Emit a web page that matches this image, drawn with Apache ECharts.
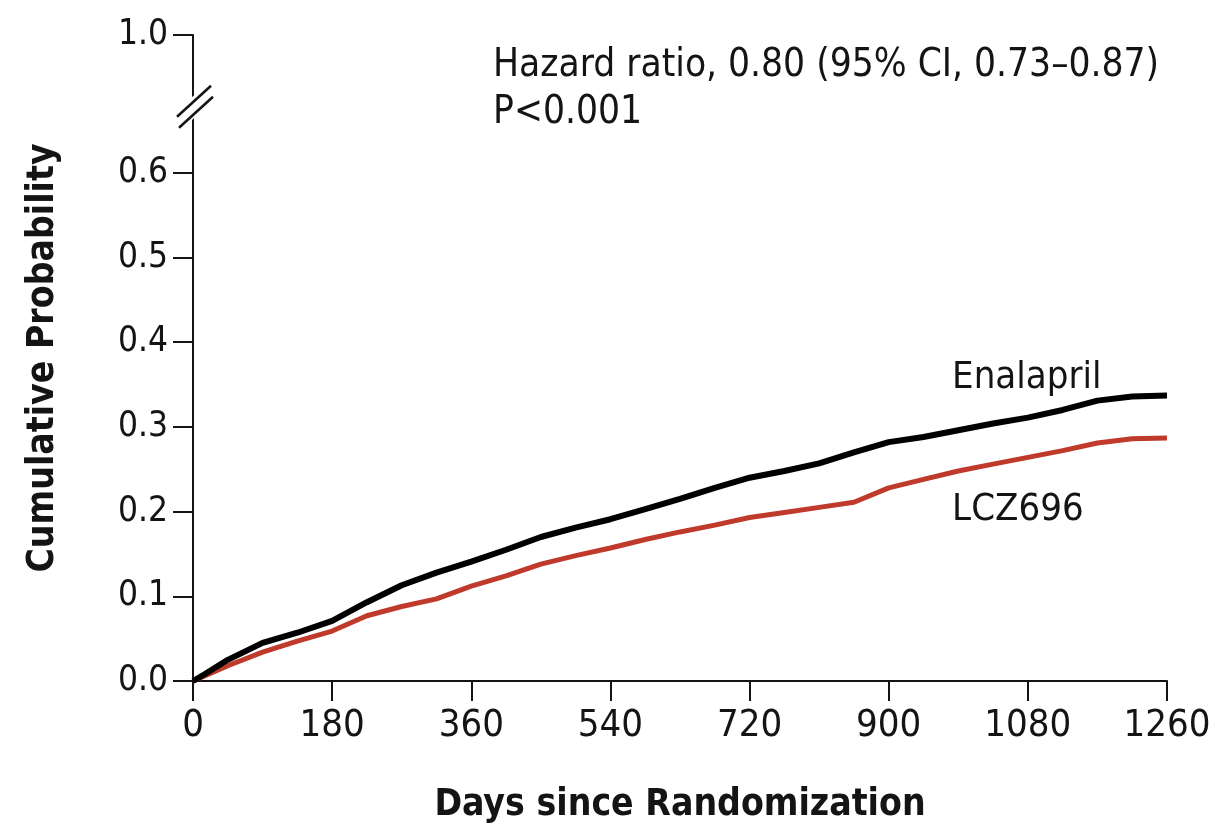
<!DOCTYPE html>
<html>
<head>
<meta charset="utf-8">
<script src="https://cdn.jsdelivr.net/npm/echarts@6/dist/echarts.min.js"></script>
<style>
html,body{margin:0;padding:0;background:#fff;}
#chart{width:1215px;height:824px;}
</style>
</head>
<body>
<div id="chart"></div>
<script>
// ---- data ----
var days = [0,15,45,90,135,180,225,270,315,360,405,450,495,540,585,630,675,720,765,810,855,900,945,990,1035,1080,1125,1170,1215,1260];
var enalapril = [0,0.008,0.025,0.045,0.057,0.071,0.093,0.113,0.128,0.141,0.155,0.170,0.181,0.191,0.203,0.215,0.228,0.240,0.248,0.257,0.270,0.282,0.288,0.296,0.304,0.311,0.320,0.331,0.336,0.337];
var lcz696 = [0,0.006,0.018,0.034,0.047,0.059,0.077,0.088,0.097,0.112,0.124,0.138,0.148,0.157,0.167,0.176,0.184,0.193,0.199,0.205,0.211,0.228,0.238,0.248,0.256,0.264,0.272,0.281,0.286,0.287];
var xTicks = [0,180,360,540,720,900,1080,1260];
var yTicks = [0,0.1,0.2,0.3,0.4,0.5,0.6];
var yTopValue = 0.7627;      // axis position where the "1.0" label sits (after the break)
var yTopLabel = '1.0';
var breakValue = 0.678;
var seriesNames = ['Enalapril','LCZ696'];
var annotation = ['Hazard ratio, 0.80 (95% CI, 0.73\u20130.87)','P<0.001'];
var xTitle = 'Days since Randomization';
var yTitle = 'Cumulative Probability';

var FONT = '"Liberation Sans Narrow","DejaVu Sans Condensed","Open Sans",sans-serif';
var TFONT = '"Liberation Sans Narrow","DejaVu Sans Condensed","Open Sans",sans-serif';
var INK = '#141414';

function pairs(xs, ys){ return xs.map(function(x,i){return [x, ys[i]];}); }

var chart = echarts.init(document.getElementById('chart'));
var option = {
  animation:false,
  backgroundColor:'#fff',
  grid:{left:193,right:48,top:35,bottom:143,containLabel:false,outerBoundsMode:'none'},
  xAxis:{
    type:'value',min:0,max:1260,interval:180,
    axisLine:{show:true,lineStyle:{color:INK,width:2}},
    axisTick:{show:true,inside:false,length:20,lineStyle:{color:INK,width:2},customValues:xTicks},
    axisLabel:{show:true,color:INK,fontFamily:FONT,fontSize:38,margin:26,
      customValues:xTicks,formatter:function(v){return String(v);}},
    splitLine:{show:false},
    name:xTitle,nameLocation:'middle',nameGap:106,
    nameTextStyle:{color:INK,fontFamily:TFONT,fontWeight:'bold',fontSize:37}
  },
  yAxis:{
    type:'value',min:0,max:yTopValue,
    axisLine:{show:true,lineStyle:{color:INK,width:2}},
    axisTick:{show:true,inside:false,length:20,lineStyle:{color:INK,width:2},
      customValues:yTicks.concat([yTopValue])},
    axisLabel:{show:true,color:INK,fontFamily:FONT,fontSize:35,margin:25,
      customValues:yTicks.concat([yTopValue]),
      formatter:function(v){ return v>0.65 ? yTopLabel : v.toFixed(1); }},
    splitLine:{show:false},
    name:yTitle,nameLocation:'middle',nameGap:131,
    nameTextStyle:{color:INK,fontFamily:TFONT,fontWeight:'bold',fontSize:37}
  },
  series:[
    {name:seriesNames[1],type:'line',data:pairs(days,lcz696),showSymbol:false,smooth:false,
     lineStyle:{color:'#c03a2b',width:5},z:2},
    {name:seriesNames[0],type:'line',data:pairs(days,enalapril),showSymbol:false,smooth:false,
     lineStyle:{color:'#000',width:6},z:3}
  ]
};
chart.setOption(option);

// annotations and axis break
var p0 = chart.convertToPixel({gridIndex:0},[0,breakValue]);
var bx = p0[0], by = p0[1];
var pE = chart.convertToPixel({gridIndex:0},[982,0.357]);
var pL = chart.convertToPixel({gridIndex:0},[982,0.202]);
chart.setOption({
  graphic:[
    {type:'polygon',shape:{points:[[bx-17,by+5],[bx+17,by-26],[bx+19,by-5],[bx-15,by+26]]},
      style:{fill:'#fff'},z:100},
    {type:'line',shape:{x1:bx-16,y1:by+10,x2:bx+18,y2:by-21},style:{stroke:INK,lineWidth:2.5},z:101},
    {type:'line',shape:{x1:bx-14,y1:by+21,x2:bx+20,y2:by-10},style:{stroke:INK,lineWidth:2.5},z:101},
    {type:'text',left:493,top:46,style:{text:annotation[0],fontFamily:FONT,fontSize:38.5,fill:INK},z:50},
    {type:'text',left:493,top:93,style:{text:annotation[1],fontFamily:FONT,fontSize:38.5,fill:INK},z:50},
    {type:'text',x:pE[0],y:pE[1],style:{text:seriesNames[0],fontFamily:FONT,fontSize:38,fill:INK,verticalAlign:'middle'},z:50},
    {type:'text',x:pL[0],y:pL[1],style:{text:seriesNames[1],fontFamily:FONT,fontSize:38,fill:INK,verticalAlign:'middle'},z:50}
  ]
});
</script>
</body>
</html>
